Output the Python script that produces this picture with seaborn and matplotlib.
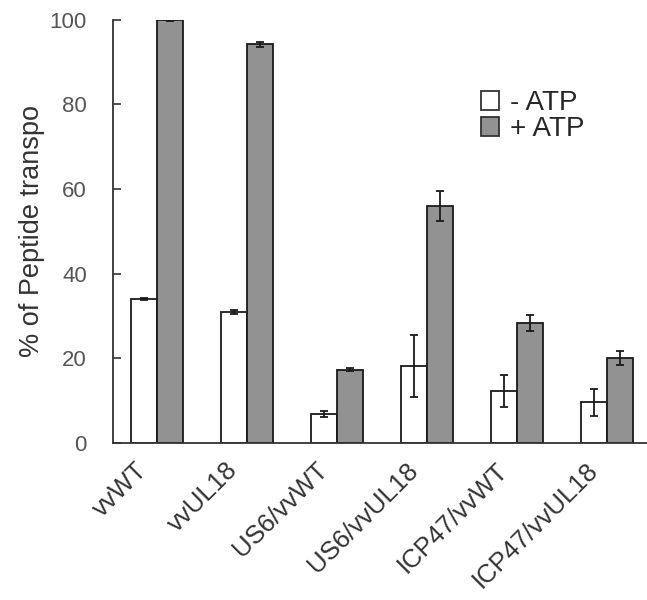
import pandas as pd
import numpy as np
import matplotlib.pyplot as plt
import matplotlib.transforms as mtransforms
import seaborn as sns
from matplotlib.patches import Patch

sns.set_style('white')
plt.rcParams['font.family'] = ['Liberation Sans', 'DejaVu Sans']

# values
strains = ['vvWT', 'vvUL18', 'US6/vvWT', 'US6/vvUL18', 'ICP47/vvWT', 'ICP47/vvUL18']
minus_atp = [34.0, 31.0, 6.8, 18.2, 12.3, 9.6]
minus_err = [0.3, 0.5, 0.6, 7.3, 3.8, 3.2]
plus_atp = [100.0, 94.2, 17.3, 56.0, 28.4, 20.0]
plus_err = [0.3, 0.6, 0.3, 3.5, 1.9, 1.7]
conditions = ['- ATP', '+ ATP']

df = pd.DataFrame({
    'strain': strains * 2,
    'cond': [conditions[0]] * len(strains) + [conditions[1]] * len(strains),
    'val': minus_atp + plus_atp,
})
errs = [minus_err, plus_err]
colors = {'- ATP': 'white', '+ ATP': '#929292'}

fig = plt.figure(figsize=(6.47, 6.0), dpi=100)
ax = fig.add_axes([0.175, 0.262, 0.825, 0.705])

sns.barplot(data=df, x='strain', y='val', hue='cond', palette=colors,
            order=strains, hue_order=conditions, width=0.58, gap=0,
            edgecolor='#1a1a1a', linewidth=1.3, errorbar=None, legend=False, ax=ax)

for cont, err in zip(ax.containers, errs):
    xs = [b.get_x() + b.get_width() / 2 for b in cont]
    ys = [b.get_height() for b in cont]
    ax.errorbar(xs, ys, yerr=err, fmt='none', ecolor='#1a1a1a',
                elinewidth=1.3, capsize=2.7, capthick=1.3)

ax.set_ylim(0, 100)
ax.set_xlim(-0.49, 5.44)
ax.set_yticks(range(0, 101, 20))
ax.set_xlabel('')
ax.set_ylabel('% of Peptide transpo', fontsize=19.5, color='#333333')
ax.yaxis.set_label_coords(-0.128, 0.5)
ax.tick_params(axis='y', direction='in', length=6, width=1.2, color='#333333',
               labelsize=16, labelcolor='#555555', left=True, pad=19)
ax.tick_params(axis='x', length=0, labelsize=18.5, labelcolor='#333333', pad=11)
offset = mtransforms.ScaledTranslation(-22 / 100, 0, fig.dpi_scale_trans)
for lab in ax.get_xticklabels():
    lab.set_rotation(45)
    lab.set_ha('right')
    lab.set_va('top')
    lab.set_rotation_mode('anchor')
    lab.set_transform(lab.get_transform() + offset)

sns.despine(ax=ax)
for s in ['left', 'bottom']:
    ax.spines[s].set_color('#333333')
    ax.spines[s].set_linewidth(1.3)

handles = [Patch(facecolor=colors[c], edgecolor='#333333', linewidth=1.3) for c in conditions]
ax.legend(handles, conditions, frameon=False, fontsize=20, loc='upper left',
          bbox_to_anchor=(0.668, 0.86), handlelength=0.64, handleheight=0.64,
          handletextpad=0.4, labelspacing=0.0, borderaxespad=0)

fig.savefig('out.png', dpi=100)
